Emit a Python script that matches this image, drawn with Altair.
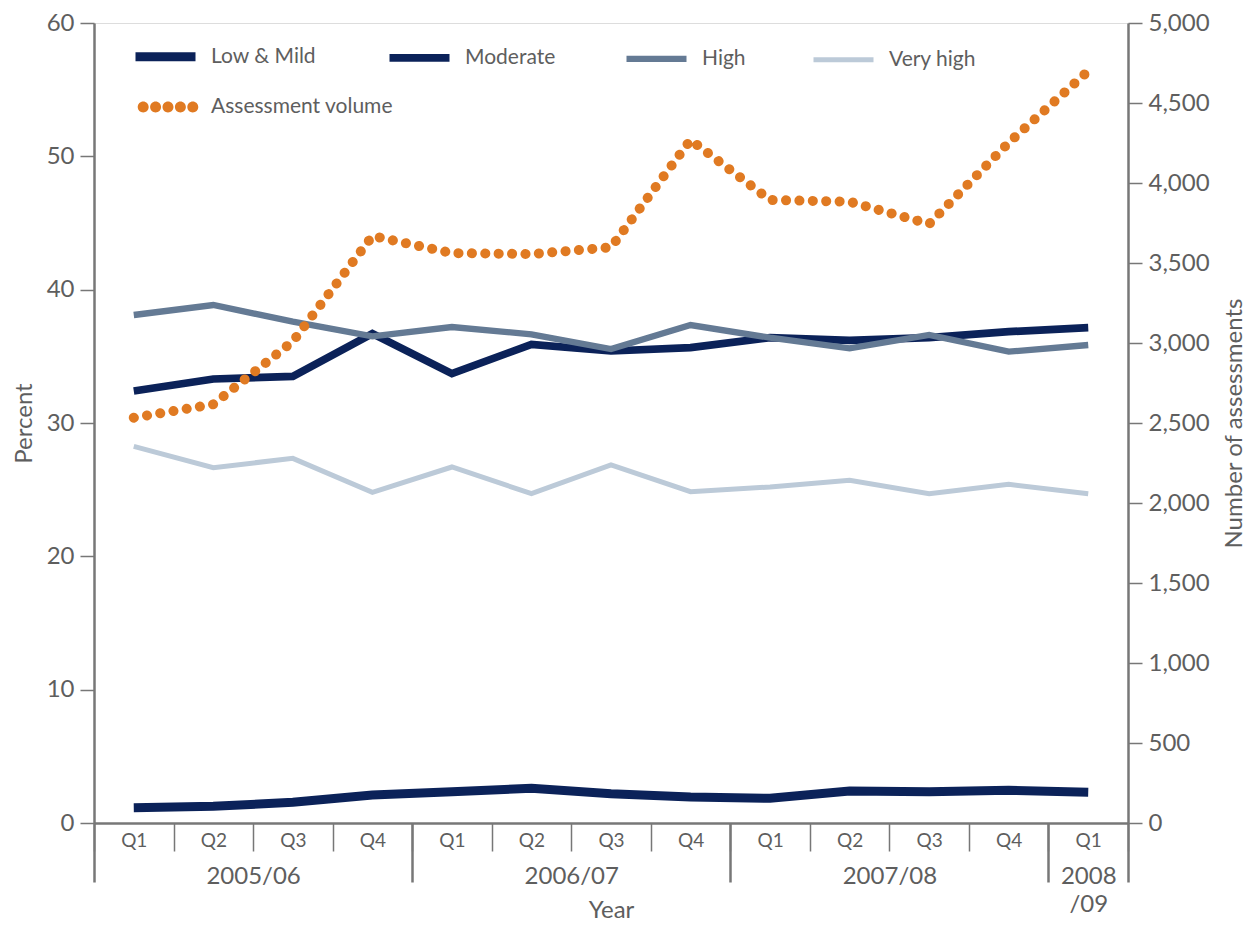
import altair as alt
import pandas as pd

# ---------------- data ----------------
quarters = ["Q1", "Q2", "Q3", "Q4", "Q1", "Q2", "Q3", "Q4", "Q1", "Q2", "Q3", "Q4", "Q1"]
fiscal_years = ["2005/06", "2006/07", "2007/08", "2008/09"]
quarters_per_year = [4, 4, 4, 1]

series_names = ["Low & Mild", "Moderate", "High", "Very high"]
low_mild = [1.15, 1.25, 1.55, 2.1, 2.35, 2.6, 2.2, 1.95, 1.85, 2.4, 2.35, 2.45, 2.3]
moderate = [32.4, 33.3, 33.5, 36.7, 33.7, 35.9, 35.4, 35.65, 36.4, 36.2, 36.4, 36.85, 37.15]
high = [38.1, 38.85, 37.6, 36.5, 37.2, 36.65, 35.55, 37.35, 36.4, 35.6, 36.6, 35.35, 35.85]
very_high = [28.25, 26.65, 27.35, 24.8, 26.7, 24.7, 26.85, 24.85, 25.2, 25.7, 24.7, 25.4, 24.7]
volume_label = "Assessment volume"
volume = [2533, 2617, 3010, 3669, 3562, 3556, 3598, 4269, 3894, 3883, 3744, 4252, 4700]

series_colors = ["#0b2259", "#0b2259", "#647a94", "#bccad8"]
series_widths = [9, 5, 5, 5]
volume_color = "#e07a22"

# ---------------- tables ----------------
rows = []
for name, vals in zip(series_names, [low_mild, moderate, high, very_high]):
    for i, v in enumerate(vals):
        rows.append({"series": name, "pos": i + 0.5, "pct": v})
pct_df = pd.DataFrame(rows)
vol_df = pd.DataFrame({"pos": [i + 0.5 for i in range(len(volume))],
                       "volume": volume, "label": volume_label})

n = len(quarters)
W, H = 1034, 800
band = W / n
TXT = "#5e5e5e"
AX = "#777777"
FONT = "Lato"

# quarter labels (placed between boundary ticks)
q_expr = ("datum.value >= %d ? '' : [%s][datum.value]"
          % (n, ",".join("'%s'" % q for q in quarters)))

# year boundaries and year labels
bounds = [0]
for c in quarters_per_year:
    bounds.append(bounds[-1] + c)
year_parts = []
for yr, c in zip(fiscal_years, quarters_per_year):
    if c == 1:
        year_parts.append("['%s','%s']" % (yr[:4], yr[4:]))
    else:
        year_parts.append("'%s'" % yr)
y_expr = ""
for b, part in zip(bounds[:-1], year_parts):
    y_expr += "datum.value == %d ? %s : " % (b, part)
y_expr += "''"
off_test = " || ".join("datum.value == %d" % b for b, c in zip(bounds[:-1], quarters_per_year) if c == 1)
big_off = quarters_per_year[0] * band / 2

x_scale = alt.Scale(domain=[0, n], nice=False, zero=False)

x_axis_q = alt.Axis(
    values=list(range(n + 1)), labelExpr=q_expr, labelOffset=band / 2,
    labelFlush=False, labelOverlap=False, labelBaseline="alphabetic",
    labelPadding=-5, labelFontSize=19, labelColor=TXT, labelFont=FONT,
    tickSize=28, tickWidth=1.5, tickColor=AX,
    domainColor=AX, domainWidth=2.5, grid=False, title=None, orient="bottom",
)
x_axis_y = alt.Axis(
    values=bounds, labelExpr=y_expr,
    labelOffset={"condition": {"test": off_test, "value": band / 2}, "value": big_off},
    labelFlush=False, labelOverlap=False, labelBaseline="alphabetic",
    labelPadding=1, labelFontSize=24, labelColor=TXT, labelFont=FONT, labelLineHeight=28,
    tickSize=59, tickWidth=2.5, tickColor=AX, domain=False, grid=False,
    title="Year", titleFontSize=24, titleColor=TXT, titleFont=FONT,
    titleFontWeight="normal", titleBaseline="middle", titleY=87, orient="bottom",
)

legend_pct = alt.Legend(
    title=None, orient="none", legendX=37, legendY=-1, direction="horizontal",
    columns=4, columnPadding=57, symbolType="stroke", symbolSize=3600,
    labelFontSize=21, labelColor=TXT, labelFont=FONT, labelOffset=11, padding=0,
    labelLimit=300,
)

lines = alt.Chart(pct_df).mark_line(strokeJoin="miter", strokeCap="butt").encode(
    x=alt.X("pos:Q", scale=x_scale, axis=x_axis_q),
    y=alt.Y("pct:Q", scale=alt.Scale(domain=[0, 60], nice=False),
            axis=alt.Axis(values=list(range(0, 61, 10)), title="Percent", orient="left",
                          grid=False, tickSize=14, tickWidth=1.5, tickColor=AX,
                          domainColor=AX, domainWidth=2.5, labelPadding=6,
                          labelFontSize=24, labelColor=TXT, labelFont=FONT,
                          titleFontSize=24, titleColor=TXT, titleFont=FONT,
                          titleFontWeight="normal", titlePadding=10)),
    color=alt.Color("series:N", scale=alt.Scale(domain=series_names, range=series_colors),
                    legend=legend_pct),
    strokeWidth=alt.StrokeWidth("series:N", scale=alt.Scale(domain=series_names, range=series_widths),
                                legend=legend_pct),
    detail="series:N",
)

r = 0.177
dots = ""
for c in [-0.8, -0.4, 0.0, 0.4, 0.8]:
    dots += "M%.3f,0A%.3f,%.3f,0,1,0,%.3f,0A%.3f,%.3f,0,1,0,%.3f,0Z" % (c - r, r, r, c + r, r, r, c - r)

legend_vol = alt.Legend(
    title=None, orient="none", legendX=43, legendY=53, symbolType=dots, symbolSize=3844,
    symbolFillColor=volume_color, symbolStrokeWidth=0,
    labelFontSize=21, labelColor=TXT, labelFont=FONT, labelOffset=12, padding=0,
    labelLimit=300,
)

vol = alt.Chart(vol_df).mark_line(strokeWidth=10, strokeDash=[0.1, 13.3], strokeCap="round").encode(
    x=alt.X("pos:Q", scale=x_scale, axis=x_axis_y),
    y=alt.Y("volume:Q", scale=alt.Scale(domain=[0, 5000], nice=False),
            axis=alt.Axis(values=list(range(0, 5001, 500)), format=",.0f", title="Number of assessments",
                          orient="right", grid=False, tickSize=14, tickWidth=1.5, tickColor=AX,
                          domainColor=AX, domainWidth=2.5, labelPadding=6,
                          labelFontSize=24, labelColor=TXT, labelFont=FONT,
                          titleFontSize=24, titleColor=TXT, titleFont=FONT, titleAngle=270,
                          titleBaseline="top", titleFontWeight="normal", titlePadding=13)),
    color=alt.Color("label:N", scale=alt.Scale(domain=[volume_label], range=[volume_color]),
                    legend=legend_vol),
)

chart = alt.layer(lines, vol).resolve_scale(
    y="independent", color="independent", strokeWidth="independent"
).resolve_axis(x="independent").properties(
    width=W, height=H,
    autosize=alt.AutoSizeParams(type="none"),
    padding={"left": 86, "top": 15, "right": 120, "bottom": 100},
).configure_view(stroke=None).configure(background="white")

chart.save("out.html", embed_options={"renderer": "svg", "actions": False})
